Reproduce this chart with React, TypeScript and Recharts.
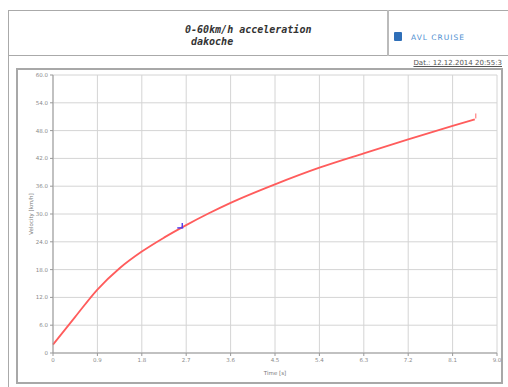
import { ComposedChart, Line, Scatter, XAxis, YAxis, CartesianGrid, Label } from 'recharts';

const times = [0, 0.45, 0.9, 1.35, 1.8, 2.25, 2.7, 3.15, 3.6, 4.5, 5.4, 6.3, 7.2, 8.1, 8.55];
const velocities = [1.8, 7.8, 13.7, 18.3, 21.9, 24.9, 27.6, 30.1, 32.4, 36.4, 40.0, 43.1, 46.1, 49.0, 50.4];
const xTicks = [0, 0.9, 1.8, 2.7, 3.6, 4.5, 5.4, 6.3, 7.2, 8.1, 9.0];
const yTicks = [0, 6, 12, 18, 24, 30, 36, 42, 48, 54, 60];
const cursorPoint = [{ t: 2.6, v: 27.0 }];
const endPoint = [{ t: 8.55, v: 50.4 }];

const data = times.map((t, i) => ({ t, v: velocities[i] }));

const tickStyle = { fontSize: 5.5, fill: '#8a8a8a', fontFamily: 'DejaVu Sans' };

// little blue cursor mark on the curve
const CursorMark = (props: any) => {
  const { cx, cy } = props;
  return (
    <g stroke="#4a3cf0" strokeWidth={1.4} fill="none">
      <line x1={cx - 4} y1={cy} x2={cx + 2} y2={cy} />
      <line x1={cx + 1} y1={cy} x2={cx + 1} y2={cy - 5} />
    </g>
  );
};

const EndMark = (props: any) => {
  const { cx, cy } = props;
  return <line x1={cx + 1} y1={cy - 1} x2={cx + 1} y2={cy - 6} stroke="#ff6a6a" strokeWidth={1} />;
};

export default function App() {
  return (
    <div style={{ position: 'absolute', left: 0, top: 0, width: 508, height: 387, background: '#fff', overflow: 'hidden' }}>
      {/* header */}
      <div style={{ position: 'absolute', left: 8, top: 10, width: 510, height: 46, border: '1px solid #aaa', boxSizing: 'border-box' }} />
      <div style={{ position: 'absolute', left: 387, top: 10, width: 2, height: 46, background: '#bbb' }} />
      <div style={{ position: 'absolute', left: 8, top: 55, width: 1, height: 340, background: '#aaa' }} />
      <div style={{ position: 'absolute', left: 185, top: 24, fontFamily: 'DejaVu Sans Mono', fontStyle: 'italic', fontWeight: 'bold', fontSize: 10, color: '#333', lineHeight: '12px', whiteSpace: 'pre' }}>
        {'0-60km/h acceleration\n dakoche'}
      </div>
      <div style={{ position: 'absolute', left: 394, top: 32, width: 8, height: 9, background: '#2f6fb8', borderRadius: 1 }} />
      <div style={{ position: 'absolute', left: 411, top: 33, fontFamily: 'DejaVu Sans', fontSize: 7.5, letterSpacing: 1, color: '#4f8fd0' }}>AVL CRUISE</div>
      {/* chart panel */}
      <div style={{ position: 'absolute', left: 16, top: 68, width: 487, height: 316, border: '2px solid #a8a8a8', boxSizing: 'border-box' }} />
      <div style={{ position: 'absolute', right: 6, top: 59, fontFamily: 'DejaVu Sans', fontSize: 7, color: '#555', textDecoration: 'underline' }}>
        Dat.: 12.12.2014 20:55:3
      </div>
      <div style={{ position: 'absolute', left: 0, top: 0 }}>
        <ComposedChart width={508} height={387} data={data} margin={{ top: 75, right: 11, bottom: 20, left: 23 }}>
          <CartesianGrid stroke="#d4d4d4" strokeWidth={1} />
          <XAxis
            type="number"
            dataKey="t"
            domain={[0, 9]}
            ticks={xTicks}
            tickFormatter={(v: number) => (v === 0 ? '0' : v.toFixed(1))}
            tick={tickStyle}
            tickSize={3}
            stroke="#999"
            height={14}
            interval={0}
          >
            <Label value="Time [s]" position="insideBottom" offset={-8} style={{ fontSize: 5.5, fill: '#777', fontFamily: 'DejaVu Sans' }} />
          </XAxis>
          <YAxis
            type="number"
            dataKey="v"
            domain={[0, 60]}
            ticks={yTicks}
            tickFormatter={(v: number) => (v === 0 ? '0' : v.toFixed(1))}
            tick={tickStyle}
            tickSize={3}
            stroke="#999"
            width={30}
            interval={0}
          >
            <Label value="Velocity [km/h]" angle={-90} position="insideLeft" offset={8} style={{ fontSize: 5.5, fill: '#777', fontFamily: 'DejaVu Sans', textAnchor: 'middle' }} />
          </YAxis>
          <Line type="monotone" dataKey="v" stroke="#ff5c5c" strokeWidth={1.8} dot={false} isAnimationActive={false} />
          <Scatter data={cursorPoint} dataKey="v" shape={CursorMark} isAnimationActive={false} />
          <Scatter data={endPoint} dataKey="v" shape={EndMark} isAnimationActive={false} />
        </ComposedChart>
      </div>
    </div>
  );
}
